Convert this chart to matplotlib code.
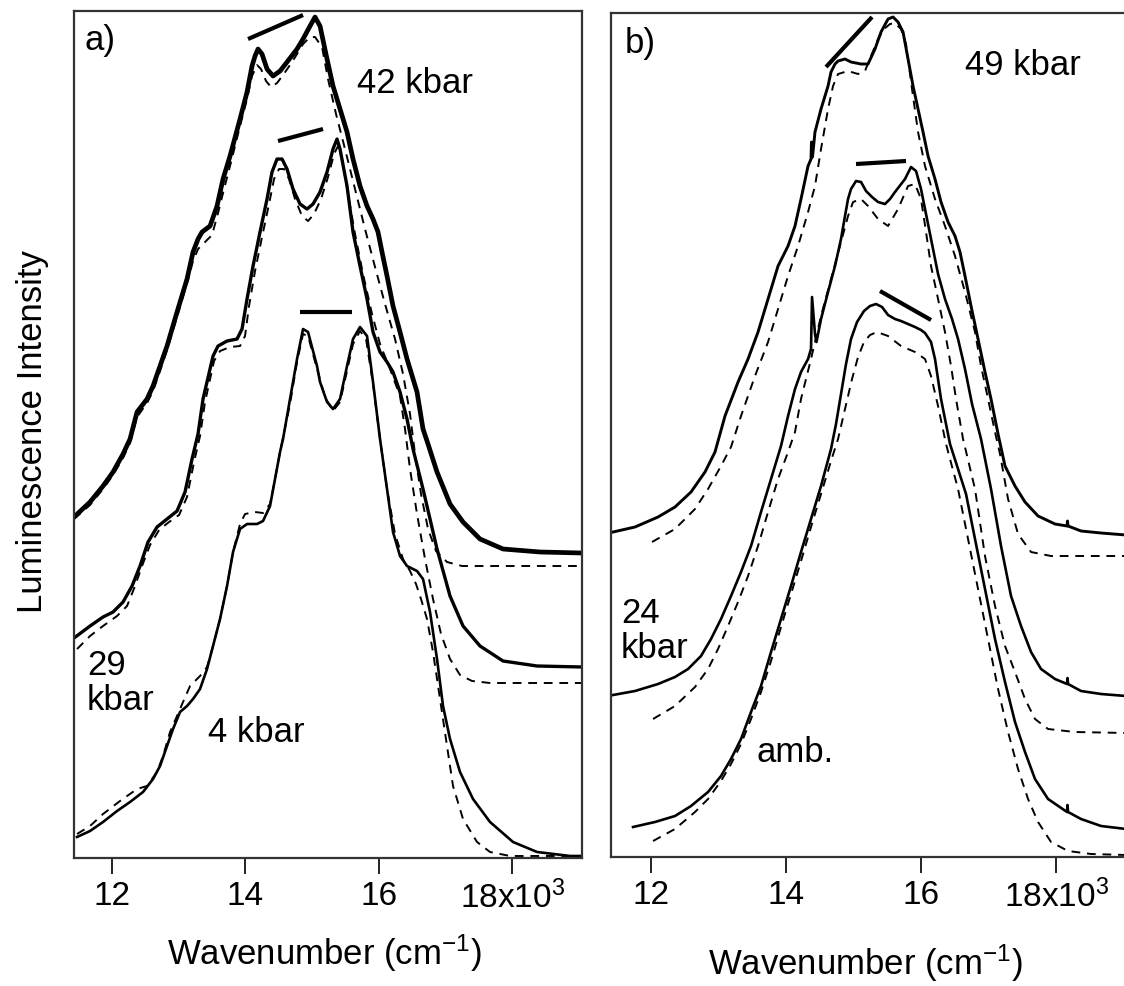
import matplotlib
matplotlib.use("Agg")
import matplotlib.pyplot as plt

plt.rcParams['font.family'] = ['Liberation Sans', 'DejaVu Sans']
plt.rcParams['mathtext.fontset'] = 'custom'
plt.rcParams['mathtext.rm'] = 'Liberation Sans'
plt.rcParams['mathtext.it'] = 'Liberation Sans:italic'

# ---------------- panel a) : 42, 29, 4 kbar ----------------
a42_wn = [11428, 11668, 11863, 12013, 12163, 12268, 12373, 12523, 12613, 12718, 12823, 12973, 13123, 13213, 13288,
          13348, 13468, 13573, 13663, 13768, 13918, 14023, 14098, 14143, 14188, 14248, 14323, 14413, 14518, 14623,
          14773, 14863, 14968, 15043, 15118, 15223, 15313, 15418, 15523, 15613, 15718, 15823, 15913, 15988, 16048,
          16123, 16213, 16318, 16423, 16573, 16663, 16738, 16873, 17068, 17263, 17518, 17863, 18418, 19048]
a42_int = [34.1, 35.6, 37.2, 38.6, 40.4, 41.9, 44.6, 45.9, 47.2, 49.2, 51.2, 54.6, 57.9, 60.6, 61.9,
           62.6, 63.2, 65.2, 67.9, 70.2, 73.9, 76.6, 79.2, 80.2, 80.9, 80.4, 78.9, 78.2, 78.7, 79.6,
           80.9, 81.9, 83.2, 84.1, 83.2, 79.9, 77.2, 74.9, 72.6, 69.9, 67.2, 65.2, 63.9, 62.6, 60.6,
           58.2, 55.2, 52.6, 49.9, 46.6, 42.9, 41.4, 38.6, 35.4, 33.6, 31.9, 30.9, 30.6, 30.5]
a42_fit_wn = [11428, 11668, 11863, 12013, 12163, 12268, 12373, 12523, 12613, 12718, 12823, 12973, 13123, 13213,
              13288, 13393, 13498, 13588, 13678, 13783, 13918, 14023, 14098, 14173, 14233, 14308, 14383, 14473,
              14563, 14668, 14773, 14863, 14968, 15043, 15148, 15238, 15358, 15493, 15643, 15793, 15943, 16093,
              16243, 16363, 16468, 16543, 16633, 16738, 16858, 17023, 17248, 19048]
a42_fit_int = [33.9, 35.3, 36.9, 38.3, 40.0, 41.5, 44.1, 45.5, 46.7, 48.7, 50.8, 54.1, 57.5, 59.7,
               60.9, 61.6, 62.3, 64.5, 66.9, 69.6, 73.2, 75.9, 78.2, 79.3, 78.9, 77.7, 77.1, 77.5,
               78.3, 79.3, 80.4, 81.4, 82.1, 82.1, 81.1, 77.9, 74.4, 70.9, 66.9, 62.9, 59.1, 55.4,
               51.9, 48.4, 44.4, 40.4, 36.4, 32.9, 30.7, 29.6, 29.2, 29.2]

a29_wn = [11428, 11668, 11863, 12013, 12163, 12298, 12418, 12538, 12673, 12823, 12973, 13093, 13198, 13288,
          13363, 13513, 13588, 13723, 13873, 13948, 14023, 14113, 14218, 14323, 14398, 14473, 14548, 14623,
          14713, 14818, 14923, 15013, 15118, 15223, 15313, 15373, 15418, 15523, 15613, 15718, 15823, 15913,
          16018, 16123, 16213, 16318, 16423, 16513, 16663, 16873, 17068, 17263, 17518, 17863, 18373, 19048]
a29_int = [22.0, 23.2, 24.1, 24.6, 25.6, 27.2, 29.2, 31.6, 33.1, 33.9, 34.7, 36.6, 39.9, 42.4,
           45.9, 50.2, 51.2, 51.7, 51.9, 52.9, 55.9, 59.2, 62.6, 65.9, 68.6, 69.9, 69.9, 68.9,
           66.9, 65.4, 64.9, 65.4, 66.6, 68.6, 70.9, 71.9, 70.9, 67.2, 62.6, 59.2, 55.9, 52.6,
           50.6, 49.6, 48.6, 46.6, 43.9, 40.9, 36.9, 30.9, 26.2, 23.2, 21.2, 19.7, 19.2, 19.1]
a29_fit_wn = [11473, 11668, 11863, 12073, 12223, 12343, 12448, 12568, 12703, 12853, 13003, 13123, 13228, 13318,
              13393, 13528, 13618, 13768, 13918, 13993, 14053, 14143, 14248, 14353, 14428, 14503, 14578, 14653,
              14743, 14848, 14938, 15028, 15133, 15238, 15328, 15388, 15448, 15538, 15643, 15763, 15898, 16018,
              16168, 16318, 16393, 16468, 16573, 16693, 16813, 16933, 17068, 17218, 17398, 17668, 19048]
a29_fit_int = [20.9, 22.2, 23.2, 24.2, 25.2, 27.2, 29.2, 31.3, 32.8, 33.6, 34.3, 36.1, 39.6, 42.2,
               45.6, 49.7, 50.7, 51.1, 51.2, 52.2, 55.2, 58.7, 62.1, 65.4, 67.9, 68.9, 68.9, 67.9,
               65.9, 64.2, 63.7, 64.4, 65.9, 68.1, 70.4, 71.2, 69.9, 66.4, 62.4, 58.4, 54.4, 51.4,
               48.9, 46.2, 42.9, 38.9, 34.4, 29.9, 25.9, 22.4, 19.9, 18.3, 17.7, 17.5, 17.5]

a4_wn = [11473, 11668, 11863, 12073, 12268, 12463, 12613, 12718, 12823, 12913, 13018, 13123, 13213, 13318,
         13423, 13513, 13618, 13723, 13813, 13918, 14023, 14173, 14263, 14368, 14443, 14518, 14563, 14668,
         14773, 14863, 14938, 15073, 15118, 15223, 15313, 15418, 15523, 15613, 15718, 15823, 15913, 16018,
         16123, 16213, 16318, 16423, 16573, 16663, 16768, 16873, 16963, 17068, 17218, 17413, 17668, 18013,
         18373, 18868, 19048]
a4_int = [2.1, 2.7, 3.6, 4.7, 5.6, 6.6, 7.9, 9.2, 11.2, 12.9, 14.6, 15.2, 15.9, 16.9,
          18.9, 21.2, 23.9, 27.2, 30.6, 32.9, 33.4, 33.4, 33.7, 35.2, 37.9, 40.6, 41.9, 45.9,
          49.9, 52.9, 52.6, 49.2, 47.6, 45.6, 44.9, 45.9, 49.2, 51.9, 53.1, 52.2, 47.6, 41.9,
          36.9, 32.6, 30.2, 29.2, 28.7, 27.9, 24.6, 19.9, 15.2, 11.9, 8.6, 5.9, 3.6, 1.6,
          0.6, 0.2, 0.2]
a4_fit_wn = [11473, 11668, 11863, 12118, 12373, 12523, 12673, 12763, 12868, 12973, 13063, 13168, 13318, 13423,
             13513, 13618, 13723, 13813, 13918, 13993, 14143, 14263, 14368, 14443, 14518, 14668, 14773, 14863,
             14938, 15073, 15193, 15313, 15418, 15523, 15613, 15718, 15808, 15913, 16018, 16123, 16243, 16363,
             16468, 16558, 16633, 16723, 16813, 16918, 17023, 17113, 17263, 17473, 17668, 17968, 19048]
a4_fit_int = [2.4, 3.2, 4.4, 5.7, 6.9, 7.2, 8.6, 10.2, 12.6, 14.2, 15.6, 17.2, 18.2, 19.1,
              21.2, 23.9, 27.2, 30.6, 33.4, 34.4, 34.6, 34.5, 35.4, 37.9, 40.6, 45.4, 49.6, 52.4,
              52.2, 48.9, 46.1, 44.7, 45.6, 48.7, 51.4, 52.7, 51.9, 47.4, 41.9, 36.9, 32.4, 29.9,
              28.7, 27.4, 25.9, 23.9, 20.6, 15.9, 11.2, 7.2, 3.9, 1.6, 0.6, 0.2, 0.2]

# peak-splitting bars above each spectrum
a_bar_wn = [[14038, 14863], [14488, 15163], [14818, 15598]]
a_bar_int = [[81.9, 84.3], [71.7, 72.9], [54.6, 54.6]]

# ---------------- panel b) : 49, 24 kbar, ambient ----------------
b49_wn = [11440, 11765, 12106, 12357, 12594, 12801, 12949, 13097, 13290, 13438, 13586, 13734, 13882, 14030,
          14133, 14222, 14326, 14370, 14377, 14392, 14429, 14518, 14622, 14666, 14725, 14770, 14873, 14962,
          15110, 15214, 15317, 15406, 15510, 15584, 15658, 15732, 15806, 15880, 15954, 16028, 16102, 16205,
          16294, 16398, 16501, 16575, 16649, 16738, 16842, 16945, 17034, 17138, 17241, 17389, 17537, 17730,
          17981, 18159, 18166, 18174, 18366, 18662, 19032]
b49_int = [32.5, 33.0, 34.0, 35.0, 36.5, 38.5, 40.5, 44.1, 47.5, 49.8, 52.5, 55.8, 59.1, 61.1,
           63.1, 65.8, 69.1, 69.8, 71.5, 70.0, 72.5, 74.8, 77.1, 78.5, 79.3, 79.6, 79.8, 79.5,
           79.3, 79.3, 80.8, 82.5, 83.8, 84.0, 83.5, 82.5, 79.8, 77.1, 74.8, 72.5, 70.1, 67.8,
           65.5, 63.5, 62.1, 60.5, 58.1, 55.1, 51.8, 48.5, 45.8, 42.3, 39.1, 37.1, 35.5, 34.1,
           33.3, 33.1, 33.6, 33.1, 32.6, 32.4, 32.2]
b49_fit_wn = [12017, 12357, 12653, 12846, 13038, 13186, 13334, 13541, 13734, 13882, 14030, 14178, 14326, 14429,
              14518, 14622, 14696, 14770, 14918, 15066, 15169, 15258, 15362, 15450, 15539, 15613, 15702, 15776,
              15865, 15954, 16057, 16205, 16353, 16501, 16649, 16797, 16886, 16990, 17093, 17167, 17286, 17434,
              17626, 17922, 19032]
b49_fit_int = [31.5, 32.8, 34.8, 36.8, 39.1, 41.0, 44.1, 48.1, 51.5, 54.8, 58.1, 61.1, 64.5, 67.1,
               70.8, 74.8, 77.1, 78.3, 78.6, 78.3, 78.6, 80.1, 81.8, 82.8, 83.3, 83.4, 82.8, 81.3,
               76.8, 72.5, 69.1, 65.8, 63.1, 60.1, 56.5, 52.5, 49.1, 45.8, 42.5, 40.3, 35.8, 32.3,
               30.5, 30.1, 30.1]

b24_wn = [11440, 11765, 12106, 12357, 12550, 12742, 12890, 13038, 13186, 13334, 13482, 13630, 13778, 13926,
          14030, 14133, 14222, 14326, 14370, 14385, 14429, 14451, 14518, 14622, 14725, 14814, 14873, 14918,
          14962, 15036, 15110, 15184, 15273, 15362, 15465, 15539, 15613, 15761, 15850, 15924, 15998, 16072,
          16161, 16250, 16353, 16457, 16546, 16649, 16753, 16886, 17034, 17182, 17330, 17478, 17626, 17774,
          17981, 18159, 18166, 18174, 18366, 18662, 19032]
b24_int = [16.2, 16.6, 17.3, 18.0, 18.8, 20.1, 21.8, 23.8, 26.1, 28.5, 31.1, 34.5, 37.8, 41.1,
           44.1, 46.8, 48.5, 49.8, 50.8, 56.0, 52.3, 51.5, 53.8, 56.5, 59.1, 61.8, 64.1, 65.8,
           66.8, 67.6, 67.5, 66.6, 66.0, 65.5, 65.3, 65.8, 66.5, 67.8, 69.0, 68.6, 66.8, 64.3,
           61.3, 58.3, 55.8, 53.8, 51.8, 48.8, 45.3, 41.8, 36.8, 31.1, 26.1, 23.1, 20.5, 18.8,
           17.8, 17.3, 17.9, 17.3, 16.6, 16.3, 16.1]
b24_fit_wn = [12032, 12357, 12653, 12846, 12994, 13142, 13290, 13438, 13586, 13734, 13882, 14030, 14133, 14222,
              14370, 14518, 14666, 14814, 14918, 14992, 15110, 15214, 15362, 15510, 15658, 15806, 15909, 15998,
              16072, 16146, 16250, 16353, 16442, 16516, 16620, 16797, 16945, 17093, 17241, 17389, 17537, 17685,
              17878, 18277, 19032]
b24_fit_int = [13.8, 15.1, 17.0, 18.8, 20.8, 23.1, 25.5, 28.1, 31.1, 34.5, 37.8, 40.5, 42.5, 45.8,
               49.8, 54.1, 57.8, 61.5, 64.1, 65.5, 65.8, 65.1, 63.8, 63.1, 64.8, 67.1, 67.3, 65.8,
               62.5, 59.1, 55.8, 52.5, 49.1, 45.8, 41.8, 36.8, 30.1, 25.1, 21.1, 18.5, 15.8, 13.8,
               12.8, 12.5, 12.4]

bamb_wn = [11736, 12061, 12357, 12594, 12846, 13038, 13186, 13334, 13482, 13630, 13778, 13926, 14074, 14222,
           14370, 14518, 14666, 14740, 14814, 14888, 14962, 15051, 15154, 15243, 15332, 15421, 15510, 15613,
           15702, 15806, 15909, 15998, 16057, 16146, 16205, 16294, 16427, 16546, 16664, 16797, 16945, 17093,
           17241, 17389, 17537, 17685, 17878, 18159, 18166, 18174, 18366, 18662, 19032]
bamb_int = [3.0, 3.5, 4.1, 5.1, 6.5, 8.1, 9.8, 11.8, 14.5, 17.1, 20.5, 23.8, 27.1, 30.5,
            33.8, 37.1, 40.8, 43.3, 46.3, 49.3, 51.8, 53.5, 54.6, 55.1, 55.3, 55.0, 54.2, 53.8,
            53.6, 53.3, 53.0, 52.7, 52.4, 51.5, 49.8, 45.8, 41.3, 38.8, 36.3, 31.8, 26.8, 21.8,
            17.5, 13.5, 10.5, 7.8, 5.8, 4.5, 5.2, 4.5, 3.8, 3.1, 2.8]
bamb_fit_wn = [12032, 12357, 12653, 12846, 13038, 13186, 13334, 13482, 13630, 13778, 13926, 14074, 14222, 14370,
               14518, 14666, 14770, 14873, 14977, 15066, 15154, 15243, 15347, 15510, 15702, 15909, 16057, 16146,
               16250, 16368, 16546, 16694, 16842, 16990, 17138, 17286, 17434, 17582, 17730, 17922, 18174, 18514,
               19032]
bamb_fit_int = [1.6, 2.8, 4.5, 5.8, 7.6, 9.3, 11.3, 13.8, 16.5, 19.6, 23.0, 26.3, 29.6, 33.0,
                36.3, 39.6, 41.8, 44.8, 47.8, 50.0, 51.5, 52.2, 52.5, 52.1, 51.1, 50.5, 49.8, 48.1,
                45.1, 41.3, 36.8, 31.8, 26.8, 21.8, 16.8, 12.5, 8.8, 5.8, 3.5, 1.5, 0.6, 0.3,
                0.2]

b_bar_wn = [[14592, 15273], [15036, 15776], [15391, 16146]]
b_bar_int = [[79.0, 84.0], [69.3, 69.6], [56.6, 53.7]]

tick_pos = [12000, 14000, 16000, 18000]
tick_lab = ['12', '14', '16', r'18x10$^3$']

fig = plt.figure(figsize=(11.24, 9.87), dpi=100)
ax_a = fig.add_axes([0.0654, 0.1297, 0.4524, 0.8578])
ax_b = fig.add_axes([0.5436, 0.1307, 0.4582, 0.8551])


def style(ax, xlim, ylim):
    ax.set_xlim(*xlim)
    ax.set_ylim(*ylim)
    ax.set_xticks(tick_pos)
    ax.set_xticklabels(tick_lab)
    ax.set_yticks([])
    ax.tick_params(axis='x', direction='out', length=11.5, width=1.4,
                   labelsize=24, pad=4, color='#222222')
    for s in ax.spines.values():
        s.set_linewidth(1.6)
        s.set_color('#333333')


dash = (0, (4.5, 3.5))

# panel a
ax_a.plot(a42_fit_wn, a42_fit_int, color='k', lw=1.4, ls=dash)
ax_a.plot(a29_fit_wn, a29_fit_int, color='k', lw=1.4, ls=dash)
ax_a.plot(a4_fit_wn, a4_fit_int, color='k', lw=1.4, ls=dash)
ax_a.plot(a42_wn, a42_int, color='k', lw=3.4)
ax_a.plot(a29_wn, a29_int, color='k', lw=2.4)
ax_a.plot(a4_wn, a4_int, color='k', lw=1.9)
for xs, ys in zip(a_bar_wn, a_bar_int):
    ax_a.plot(xs, ys, color='k', lw=3, solid_capstyle='butt')
style(ax_a, (11420, 19048), (0, 84.67))

ax_a.text(11592, 80.9, 'a)', fontsize=25, va='baseline')
ax_a.text(15672, 76.6, '42 kbar', fontsize=25, va='baseline')
ax_a.text(11622, 18.4, '29', fontsize=25, va='baseline')
ax_a.text(11622, 14.9, 'kbar', fontsize=25, va='baseline')
ax_a.text(13437, 11.7, '4 kbar', fontsize=25, va='baseline')

# panel b
ax_b.plot(b49_fit_wn, b49_fit_int, color='k', lw=1.4, ls=dash)
ax_b.plot(b24_fit_wn, b24_fit_int, color='k', lw=1.4, ls=dash)
ax_b.plot(bamb_fit_wn, bamb_fit_int, color='k', lw=1.4, ls=dash)
ax_b.plot(b49_wn, b49_int, color='k', lw=2.1)
ax_b.plot(b24_wn, b24_int, color='k', lw=1.9)
ax_b.plot(bamb_wn, bamb_int, color='k', lw=1.9)
for xs, ys in zip(b_bar_wn, b_bar_int):
    ax_b.plot(xs, ys, color='k', lw=3, solid_capstyle='butt')
style(ax_b, (11410, 19032), (0, 84.4))

ax_b.text(11617, 80.5, 'b)', fontsize=25, va='baseline')
ax_b.text(16649, 78.3, '49 kbar', fontsize=25, va='baseline')
ax_b.text(11558, 23.5, '24', fontsize=25, va='baseline')
ax_b.text(11558, 20.0, 'kbar', fontsize=25, va='baseline')
ax_b.text(13556, 9.6, 'amb.', fontsize=25, va='baseline')

fig.text(0.289, 0.0223, r'Wavenumber (cm$^{-1}$)', fontsize=25, ha='center', va='baseline')
fig.text(0.7696, 0.0122, r'Wavenumber (cm$^{-1}$)', fontsize=25, ha='center', va='baseline')
fig.text(0.0285, 0.5623, 'Luminescence Intensity', fontsize=25, rotation=90,
         ha='center', va='center')

fig.savefig('out.png', dpi=100)
